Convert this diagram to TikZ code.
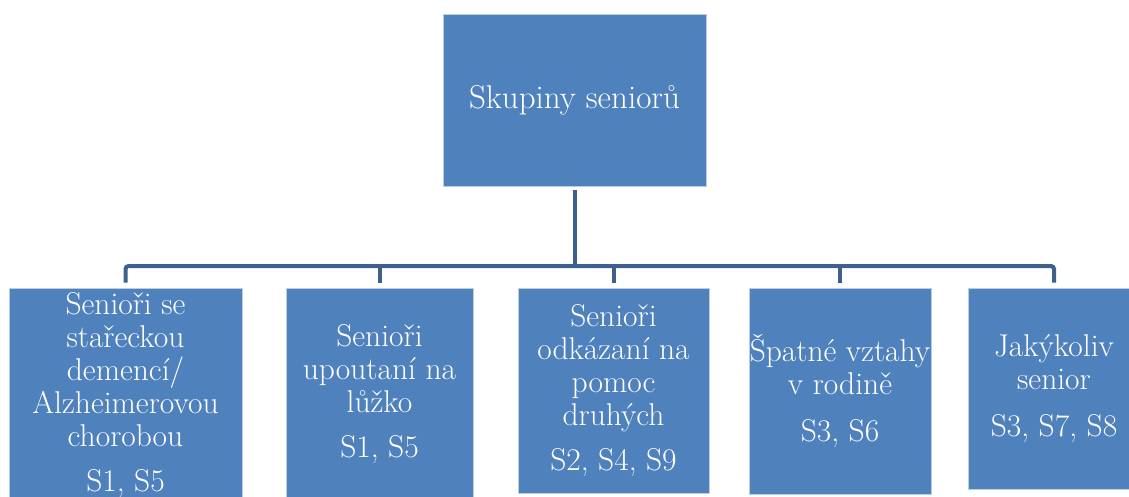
\documentclass[tikz,border=0pt]{standalone}
\usepackage{fontspec}
\definecolor{boxblue}{RGB}{79,129,189}
\definecolor{boxedge}{RGB}{185,205,229}
\definecolor{linkblue}{RGB}{62,96,140}
\tikzset{
  orgbox/.style={rectangle, fill=boxblue, draw=boxedge, line width=0.8pt, inner sep=0pt},
  orglabel/.style={text=white, align=center, inner sep=0pt,
    font=\fontsize{31.5}{33}\selectfont},
  link/.style={draw=linkblue, line width=4pt, rounded corners=3pt}
}
\begin{document}
\begin{tikzpicture}[x=1pt, y=-1pt]
  \useasboundingbox (0,0) rectangle (1129,497);
  \clip (0,0) rectangle (1129,497);

  % root box
  \node[orgbox, minimum width=263pt, minimum height=172pt] (root) at (574.5,100) {};
  \node[orglabel, font=\fontsize{33}{33}\selectfont] (rootlbl) at (root.center) {Skupiny seniorů};

  % child boxes
  \node[orgbox, minimum width=233pt, minimum height=214pt] (b1) at (125.5,395) {};
  \node[orgbox, minimum width=187pt, minimum height=212pt] (b2) at (379.5,394) {};
  \node[orgbox, minimum width=191pt, minimum height=205pt] (b3) at (613.5,390.5) {};
  \node[orgbox, minimum width=182pt, minimum height=206pt] (b4) at (840,391) {};
  \node[orgbox, minimum width=172pt, minimum height=201pt] (b5) at (1054,388.5) {};

  \node[orglabel] (t1) at (b1.center) {Senioři se\\stařeckou\\demencí/\\Alzheimerovou\\chorobou\\[12pt]S1, S5};
  \node[orglabel] (t2) at (b2.center) {Senioři\\upoutaní na\\lůžko\\[12pt]S1, S5};
  \node[orglabel] (t3) at (b3.center) {Senioři\\odkázaní na\\pomoc\\druhých\\[12pt]S2, S4, S9};
  \node[orglabel] (t4) at (b4.center) {Špatné vztahy\\v rodině\\[14pt]S3, S6};
  \node[orglabel] (t5) at (b5.center) {Jakýkoliv\\senior\\[14pt]S3, S7, S8};

  % connectors
  \coordinate (bus) at (575,266);
  \draw[link] ([yshift=-4pt]root.south) -- (root.south |- bus);
  \draw[link] ([yshift=5pt]b1.north) -- (b1.north |- bus) -- (b5.north |- bus) -- ([yshift=5pt]b5.north);
  \draw[link] (b2.north |- bus) -- ([yshift=5pt]b2.north);
  \draw[link] (b3.north |- bus) -- ([yshift=5pt]b3.north);
  \draw[link] (b4.north |- bus) -- ([yshift=5pt]b4.north);
\end{tikzpicture}
\end{document}
